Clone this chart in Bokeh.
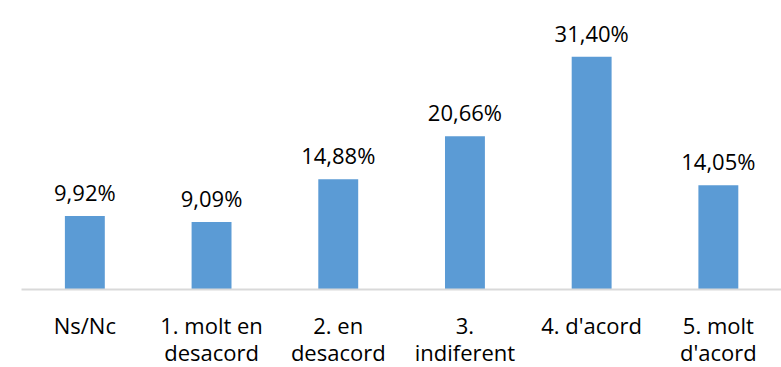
from bokeh.plotting import figure
from bokeh.models import Range1d, FixedTicker, ColumnDataSource
from bokeh.core.properties import value
from bokeh.embed import file_html
from bokeh.resources import INLINE

categories = ["Ns/Nc", "1. molt en\ndesacord", "2. en\ndesacord", "3.\nindiferent", "4. d'acord", "5. molt\nd'acord"]
percentages = [9.92, 9.09, 14.88, 20.66, 31.40, 14.05]

FONT = "Open Sans"
FS = "22px"
xs = [i + 0.5 for i in range(len(categories))]
labels = [f"{v:.2f}".replace(".", ",") + "%" for v in percentages]
src = ColumnDataSource(dict(x=xs, top=percentages, label=labels))

p = figure(frame_width=760, frame_height=289, output_backend="svg", toolbar_location=None,
           x_range=Range1d(0, 760 / 126.7), y_range=Range1d(0, 289 / 7.414),
           min_border_left=21, min_border_right=0, min_border_top=0, min_border_bottom=78)
p.outline_line_color = None
p.grid.visible = False
p.yaxis.visible = False

p.vbar(x="x", top="top", bottom=0, width=0.315, source=src, fill_color="#5B9BD5", line_color=None)
p.text(x="x", y="top", text="label", source=src, text_align="center", text_baseline="alphabetic",
       y_offset=-24, text_font=value(FONT), text_font_size=FS, text_color="#000000")

ax = p.xaxis[0]
ax.ticker = FixedTicker(ticks=xs)
ax.major_label_overrides = {x: c for x, c in zip(xs, categories)}
ax.axis_line_color = "#D9D9D9"
ax.axis_line_width = 2
ax.major_tick_line_color = None
ax.minor_tick_line_color = None
ax.major_tick_in = 0
ax.major_tick_out = 0
ax.major_label_standoff = 20
ax.major_label_text_font = FONT
ax.major_label_text_font_size = FS
ax.major_label_text_color = "#000000"
ax.major_label_text_line_height = 0.9

open("out.html", "w").write(file_html(p, INLINE))
